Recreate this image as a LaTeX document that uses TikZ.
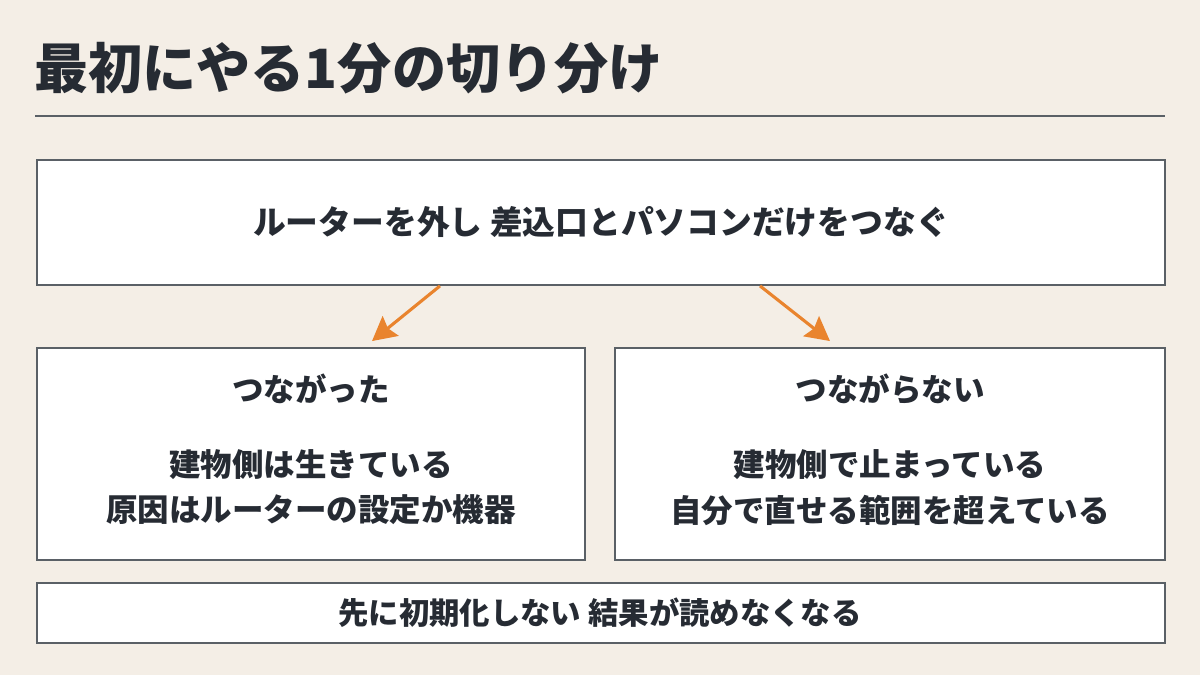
\documentclass[tikz,border=0pt]{standalone}
\usepackage{fontspec}
\setmainfont{Noto Sans CJK JP}
\usepackage{xcolor}
\usepackage{tikz}
\usetikzlibrary{positioning, arrows.meta, calc}

\definecolor{paper}{HTML}{F4EEE6}
\definecolor{ink}{HTML}{262B33}
\definecolor{edge}{HTML}{5A6066}
\definecolor{accent}{HTML}{E9842E}

\begin{document}
\begin{tikzpicture}[x=0.025cm, y=-0.025cm,
      panel/.style={draw=edge, line width=1.3pt, fill=white, inner sep=0pt},
      big/.style={font=\fontsize{38.5pt}{44pt}\selectfont\bfseries, text=ink, inner sep=0pt},
      txt/.style={font=\fontsize{22.4pt}{26pt}\selectfont\bfseries, text=ink, inner sep=0pt},
      arr/.style={-{Stealth[length=17pt, width=18pt, inset=2.5pt]}, line width=2.2pt, accent}]
    \useasboundingbox[fill=paper] (0,0) rectangle (1200,675);
    % --- Title ---
    \node[big, anchor=west] (title) at (34,68) {最初にやる1分の切り分け};
    \draw[edge, line width=1.4pt] (35,116) -- (1165,116);
    % --- First step ---
    \node[panel, minimum width=28.2cm, minimum height=3.125cm] (top) at (601,222.5) {};
    \node[txt, font=\fontsize{23.3pt}{26pt}\selectfont\bfseries] (toptxt) at (601,222) {ルーターを外し 差込口とパソコンだけをつなぐ};
    % --- Two outcomes ---
    \node[panel, minimum width=13.7cm, minimum height=5.3cm] (left) at (311,454) {};
    \node[panel, minimum width=13.75cm, minimum height=5.3cm] (right) at (890,454) {};
    \node[txt] (okhead) at (311,389) {つながった};
    \node[txt] (ok1) at (311,465) {建物側は生きている};
    \node[txt] (ok2) at (311,510) {原因はルーターの設定か機器};
    \node[txt] (nghead) at (890,389) {つながらない};
    \node[txt] (ng1) at (890,465) {建物側で止まっている};
    \node[txt] (ng2) at (890,510) {自分で直せる範囲を超えている};
    \draw[arr] ([xshift=-4.025cm]top.south) -- ([xshift=1.525cm, yshift=0.15cm]left.north);
    \draw[arr] ([xshift=3.975cm]top.south) -- ([xshift=-1.5cm, yshift=0.15cm]right.north);
    % --- Warning ---
    \node[panel, minimum width=28.2cm, minimum height=1.5cm] (warn) at (601,613) {};
    \node[txt, font=\fontsize{21.6pt}{26pt}\selectfont\bfseries] (warntxt) at (600,613) {先に初期化しない 結果が読めなくなる};
  \end{tikzpicture}
\end{document}
